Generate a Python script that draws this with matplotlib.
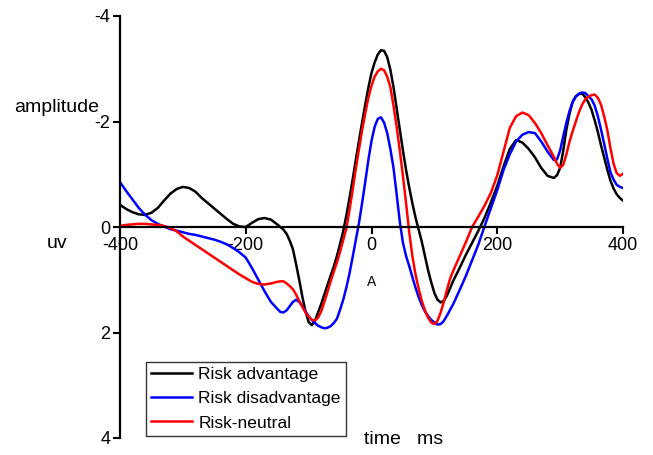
import numpy as np
import matplotlib
matplotlib.use("Agg")
import matplotlib.pyplot as plt

plt.rcParams['font.family'] = ['Liberation Sans', 'DejaVu Sans']

# time axis (ms): coarser where curves are flat, finer where they bend sharply
time_ms = (list(range(-400, -149, 10)) + list(range(-145, 131, 5))
           + list(range(140, 291, 10)) + list(range(295, 401, 5)))

risk_advantage = [
    # -400 .. -150 (10 ms)
    -0.42, -0.34, -0.28, -0.24, -0.23, -0.27, -0.36, -0.50, -0.63, -0.72,
    -0.76, -0.74, -0.67, -0.55, -0.45, -0.35, -0.25, -0.15, -0.06, -0.01,
    0.00, -0.08, -0.15, -0.17, -0.14, -0.05,
    # -145 .. 130 (5 ms)
    0.00, 0.05, 0.13, 0.26, 0.42, 0.70, 1.00, 1.32, 1.60, 1.80,
    1.86, 1.78, 1.62, 1.46, 1.28, 1.10, 0.92, 0.75, 0.55, 0.32,
    0.08, -0.22, -0.55, -0.90, -1.27, -1.63, -1.98, -2.32, -2.64, -2.92,
    -3.12, -3.27, -3.35, -3.34, -3.22, -2.98, -2.65, -2.25, -1.85, -1.45,
    -1.08, -0.75, -0.45, -0.18, 0.05, 0.28, 0.55, 0.82, 1.05, 1.25,
    1.38, 1.43, 1.40, 1.30, 1.16, 1.02,
    # 140 .. 290 (10 ms)
    0.78, 0.53, 0.30, 0.07, -0.18, -0.47, -0.78, -1.15, -1.48, -1.65,
    -1.60, -1.48, -1.32, -1.12, -0.97, -0.93,
    # 295 .. 400 (5 ms)
    -0.98, -1.12, -1.45, -1.85, -2.15, -2.38, -2.48, -2.52, -2.53, -2.46,
    -2.36, -2.22, -2.02, -1.80, -1.55, -1.32, -1.09, -0.88, -0.73, -0.62,
    -0.55, -0.50]

risk_disadvantage = [
    -0.85, -0.68, -0.52, -0.36, -0.23, -0.13, -0.06, -0.01, 0.04, 0.07,
    0.10, 0.13, 0.15, 0.18, 0.21, 0.24, 0.28, 0.33, 0.40, 0.48,
    0.58, 0.78, 1.00, 1.22, 1.42, 1.55,
    1.61, 1.62, 1.58, 1.50, 1.42, 1.38, 1.42, 1.50, 1.60, 1.69,
    1.76, 1.82, 1.87, 1.90, 1.92, 1.91, 1.88, 1.82, 1.74, 1.57,
    1.38, 1.15, 0.88, 0.57, 0.25, -0.07, -0.45, -0.85, -1.27, -1.63,
    -1.90, -2.05, -2.08, -1.98, -1.78, -1.48, -1.12, -0.62, -0.10, 0.30,
    0.55, 0.74, 0.95, 1.15, 1.33, 1.48, 1.60, 1.69, 1.76, 1.81,
    1.85, 1.84, 1.78, 1.68, 1.57, 1.46,
    1.20, 0.93, 0.63, 0.33, -0.02, -0.36, -0.70, -1.08, -1.38, -1.62,
    -1.75, -1.80, -1.78, -1.62, -1.43, -1.27,
    -1.28, -1.45, -1.72, -1.98, -2.20, -2.37, -2.47, -2.53, -2.55, -2.54,
    -2.48, -2.42, -2.30, -2.10, -1.85, -1.58, -1.30, -1.04, -0.90, -0.80,
    -0.76, -0.74]

risk_neutral = [
    -0.02, -0.04, -0.05, -0.06, -0.06, -0.05, -0.04, -0.02, 0.02, 0.08,
    0.18, 0.26, 0.34, 0.42, 0.50, 0.58, 0.66, 0.74, 0.82, 0.90,
    0.97, 1.04, 1.08, 1.09, 1.07, 1.04,
    1.03, 1.03, 1.07, 1.12, 1.18, 1.28, 1.40, 1.51, 1.62, 1.70,
    1.76, 1.77, 1.72, 1.60, 1.42, 1.23, 1.03, 0.85, 0.67, 0.47,
    0.25, 0.03, -0.32, -0.70, -1.10, -1.47, -1.83, -2.15, -2.45, -2.68,
    -2.85, -2.95, -3.00, -2.97, -2.85, -2.65, -2.30, -1.90, -1.45, -0.97,
    -0.45, 0.10, 0.55, 0.90, 1.17, 1.40, 1.58, 1.72, 1.81, 1.84,
    1.78, 1.62, 1.42, 1.19, 0.98, 0.83,
    0.56, 0.29, 0.00, -0.20, -0.41, -0.65, -0.98, -1.43, -1.88, -2.10,
    -2.17, -2.12, -1.97, -1.78, -1.55, -1.33,
    -1.20, -1.12, -1.18, -1.38, -1.62, -1.82, -2.00, -2.18, -2.32, -2.42,
    -2.47, -2.50, -2.51, -2.45, -2.32, -2.10, -1.84, -1.50, -1.20, -1.02,
    -0.97, -1.01]

series_names = ["Risk advantage", "Risk disadvantage", "Risk-neutral"]
series_colors = ["#000000", "#0000ff", "#ff0000"]
x_ticks = [-400, -200, 0, 200, 400]
y_ticks = [-4, -2, 0, 2, 4]

fig = plt.figure(figsize=(6.53, 4.55), dpi=100)
ax = fig.add_axes([120/653, 1-438/455, (623-120)/653, (438-16)/455])

lines = []
for vals, name, col in zip([risk_advantage, risk_disadvantage, risk_neutral],
                           series_names, series_colors):
    ln, = ax.plot(time_ms, vals, color=col, lw=1.8, label=name,
                  solid_joinstyle='round')
    lines.append(ln)

ax.set_xlim(-400, 400)
ax.set_ylim(4, -4)
ax.set_xticks(x_ticks)
ax.set_yticks(y_ticks)
ax.set_xticklabels([str(v) for v in x_ticks])
ax.set_yticklabels([str(v) for v in y_ticks])
ax.spines['top'].set_visible(False)
ax.spines['right'].set_visible(False)
ax.spines['bottom'].set_position(('data', 0))
for s in ['left', 'bottom']:
    ax.spines[s].set_linewidth(1.6)
ax.tick_params(axis='both', direction='out', length=5, width=1.5, labelsize=13, pad=2)

leg = ax.legend(handles=lines, loc='upper left',
                bbox_to_anchor=(146/653, 1-362/455), bbox_transform=fig.transFigure,
                frameon=True, fancybox=False, fontsize=12.6, borderaxespad=0,
                handlelength=2.3, handletextpad=0.4, borderpad=0.3, labelspacing=0.5)
leg.get_frame().set_edgecolor('black')
leg.get_frame().set_linewidth(1.0)

fig.text(14/653, 1-107/455, "amplitude", fontsize=14, ha='left', va='center')
fig.text(47/653, 1-243/455, "uv", fontsize=14, ha='left', va='center')
ax.text(0, 1.05, "A", fontsize=10, ha='center', va='center')
fig.text(364/653, 1-440/455, "time   ms", fontsize=14, ha='left', va='center')

fig.savefig("out.png", dpi=100)
